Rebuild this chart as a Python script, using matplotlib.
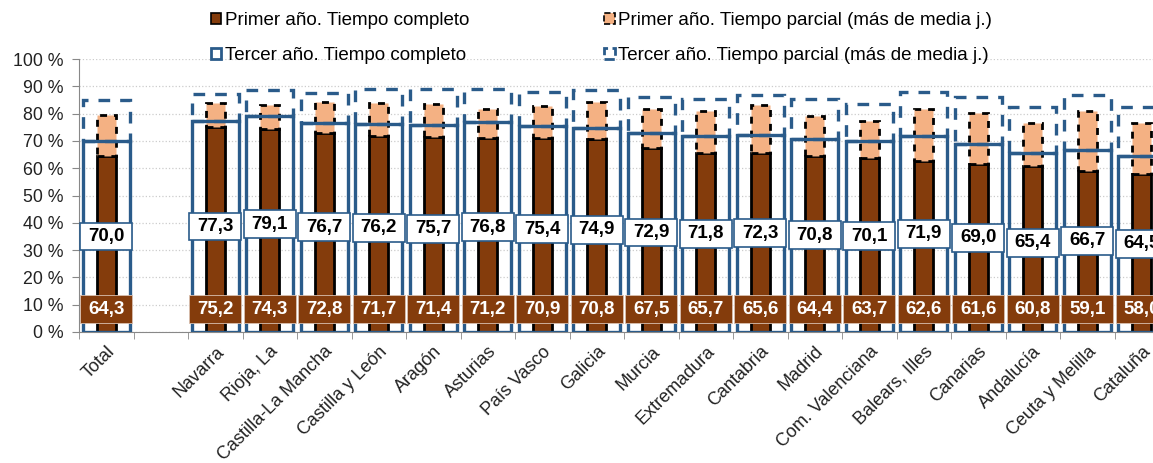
import matplotlib.pyplot as plt
from matplotlib.patches import Rectangle, Patch
import numpy as np

plt.rcParams['font.family'] = ['Liberation Sans', 'DejaVu Sans']

# categories (Total, then a gap, then the regions)
labels = ['Total', 'Navarra', 'Rioja, La', 'Castilla-La Mancha', 'Castilla y León',
          'Aragón', 'Asturias', 'País Vasco', 'Galicia', 'Murcia', 'Extremadura',
          'Cantabria', 'Madrid', 'Com. Valenciana', 'Balears, Illes', 'Canarias',
          'Andalucía', 'Ceuta y Melilla', 'Cataluña']

# Primer año
primer_completo = [64.3, 75.2, 74.3, 72.8, 71.7, 71.4, 71.2, 70.9, 70.8, 67.5,
                   65.7, 65.6, 64.4, 63.7, 62.6, 61.6, 60.8, 59.1, 58.0]
primer_parcial = [15.2, 8.8, 8.7, 11.4, 12.3, 12.1, 10.6, 11.9, 13.4, 14.2,
                  15.3, 17.7, 14.7, 13.6, 19.1, 18.6, 15.8, 21.9, 18.6]

# Tercer año
tercer_completo = [70.0, 77.3, 79.1, 76.7, 76.2, 75.7, 76.8, 75.4, 74.9, 72.9,
                   71.8, 72.3, 70.8, 70.1, 71.9, 69.0, 65.4, 66.7, 64.5]
tercer_parcial = [15.0, 10.0, 9.4, 11.0, 12.7, 13.2, 12.2, 12.5, 13.6, 13.2,
                  13.7, 14.4, 14.4, 13.4, 16.1, 17.2, 17.1, 20.1, 17.8]

BROWN = '#843C0C'
PEACH = '#F4B183'
BLUE = '#2A5B8A'

x = np.array([0] + list(range(2, 20)))

fig = plt.figure(figsize=(11.53, 4.63), dpi=100)
ax = fig.add_axes([79 / 1153, 131 / 463, 1090 / 1153, 273 / 463])

# primer año (narrow bars)
ax.bar(x, primer_completo, width=0.34, color=BROWN, edgecolor='black', linewidth=2, zorder=2)
ax.bar(x, primer_parcial, width=0.34, bottom=primer_completo, color=PEACH,
       edgecolor='black', linewidth=2, linestyle=(0, (2.5, 2.5)), zorder=2)

# tercer año (wide outlined bars)
ax.bar(x, tercer_completo, width=0.86, fill=False, edgecolor=BLUE, linewidth=2.4, zorder=3)
ax.bar(x, tercer_parcial, width=0.86, bottom=tercer_completo, fill=False,
       edgecolor=BLUE, linewidth=2.4, linestyle=(0, (3.5, 3)), zorder=3)

# value labels
for xi, pc, tc in zip(x, primer_completo, tercer_completo):
    ax.add_patch(Rectangle((xi - 0.48, 3.3), 0.96, 10.2, facecolor=BROWN,
                           edgecolor='#d9c0b0', linewidth=0.6, zorder=4))
    ax.text(xi, 8.4, f'{pc:.1f}'.replace('.', ','), ha='center', va='center',
            color='white', fontsize=13.5, fontweight='bold', zorder=5)
    ax.add_patch(Rectangle((xi - 0.48, tc / 2 - 5.1), 0.96, 10.2, facecolor='white',
                           edgecolor=BLUE, linewidth=1.2, zorder=4))
    ax.text(xi, tc / 2, f'{tc:.1f}'.replace('.', ','), ha='center', va='center',
            color='black', fontsize=13.5, fontweight='bold', zorder=5)

ax.set_xlim(-0.5, 19.5)
ax.set_ylim(0, 100)
ax.set_yticks(range(0, 101, 10))
ax.set_yticklabels([f'{v} %' for v in range(0, 101, 10)], fontsize=12.8, color='#222222')
ax.yaxis.grid(True, color='#cccccc', linestyle=':', linewidth=0.9)
ax.set_axisbelow(True)

ax.set_xticks(x)
ax.set_xticklabels(labels, rotation=45, ha='right', rotation_mode='anchor',
                   fontsize=13, color='#222222')
ax.set_xticks(np.arange(-0.5, 20, 1), minor=True)
ax.tick_params(axis='x', which='major', length=0, pad=8)
ax.tick_params(axis='x', which='minor', length=5, color='#888888')
ax.tick_params(axis='y', length=5, color='#888888', pad=6)

for s in ['top', 'right']:
    ax.spines[s].set_visible(False)
for s in ['left', 'bottom']:
    ax.spines[s].set_color('#888888')

handles = [
    Patch(facecolor=BROWN, edgecolor='black', linewidth=1.2),
    Patch(facecolor='white', edgecolor=BLUE, linewidth=2),
    Patch(facecolor=PEACH, edgecolor='black', linewidth=1.2, linestyle='--'),
    Patch(facecolor='white', edgecolor=BLUE, linewidth=2, linestyle='--'),
]
names = ['Primer año. Tiempo completo', 'Tercer año. Tiempo completo',
         'Primer año. Tiempo parcial (más de media j.)',
         'Tercer año. Tiempo parcial (más de media j.)']
fig.legend(handles, names, ncol=2, loc='upper left', bbox_to_anchor=(194 / 1153, 1.01),
           frameon=False, fontsize=13.5, handlelength=0.55, handleheight=0.55,
           handletextpad=0.2, columnspacing=7.2, labelspacing=0.95)

fig.savefig('out.png', dpi=100)
